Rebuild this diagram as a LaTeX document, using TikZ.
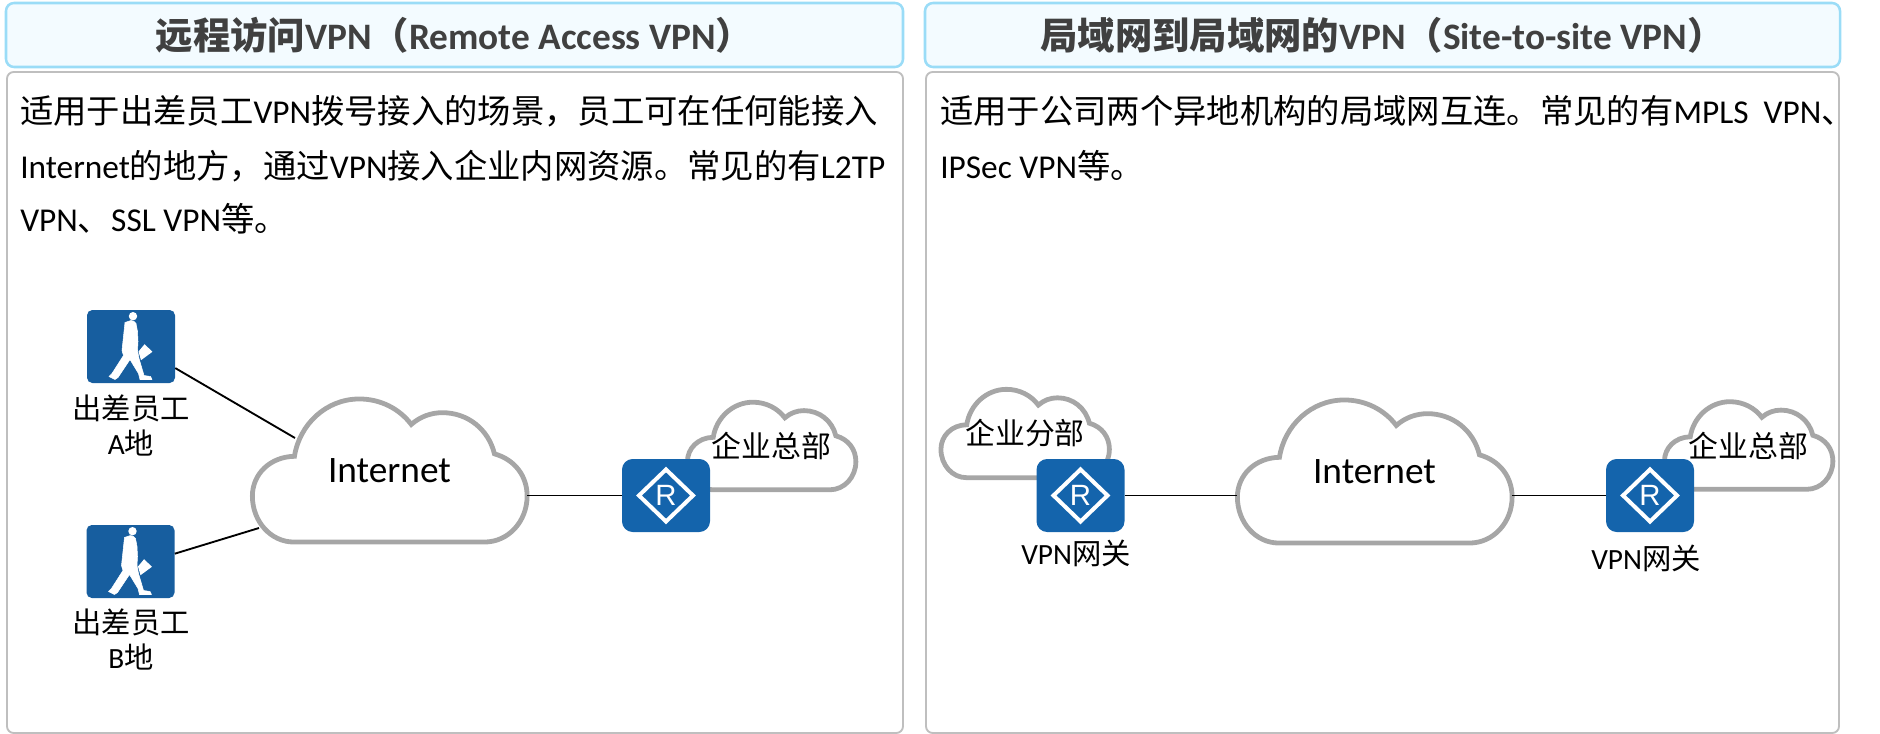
\documentclass[tikz,border=0pt]{standalone}
\usepackage{fontspec}
\setmainfont{Carlito}
\newfontfamily\cjkfont{Noto Sans CJK SC}
\newfontfamily\glyphfont{Liberation Sans}
\newcommand{\zh}[1]{{\cjkfont #1}}
\definecolor{headline}{HTML}{9ADCF7}
\definecolor{headfill}{HTML}{F3FBFF}
\definecolor{bodyline}{HTML}{BFBFBF}
\definecolor{titlegray}{HTML}{404040}
\definecolor{cloudgray}{HTML}{A6A6A6}
\definecolor{walkerblue}{HTML}{175E9F}
\definecolor{routerblue}{HTML}{1464AC}
\tikzset{
  headbox/.style={draw=headline, fill=headfill, line width=1.9pt, rounded corners=6pt, inner sep=0pt,
    minimum height=48pt, text=titlegray, font=\fontsize{28}{30}\selectfont\bfseries},
  bodybox/.style={draw=bodyline, line width=1.4pt, rounded corners=5pt, inner sep=0pt, minimum height=495.75pt},
  bodytext/.style={anchor=base west, inner sep=0pt, font=\fontsize{25}{30}\selectfont},
  cloudtext/.style={inner sep=0pt, font=\fontsize{22.4}{26}\selectfont},
  nettext/.style={inner sep=0pt, font=\fontsize{28}{30}\selectfont},
  devtext/.style={inner sep=0pt, align=center, font=\fontsize{22}{26.25}\selectfont},
  walkerbox/.style={fill=walkerblue, rounded corners=4pt, minimum width=66pt, minimum height=54.75pt, inner sep=0pt},
  routerbox/.style={fill=routerblue, rounded corners=8pt, minimum width=66pt, minimum height=54.75pt, inner sep=0pt},
  link/.style={line width=1.4pt, black},
  pics/walker/.style={code={
    \fill[white] (2,-30.3) circle (4.2);
    \filldraw[white, line width=.4pt, line join=round] (0,-26) -- (-6,-24) -- (-7.5,-10) -- (-9,4) -- (-7.5,9) -- (-19,27) -- (-22,30)
      -- (-16,33) -- (-13,31) -- (-1,13) -- (7.5,27) -- (9,33) -- (21,33) -- (19.5,30)
      -- (13,29) -- (8,12) -- (6.5,4) -- (7,-5) -- (6.5,-15) -- (5,-23) -- (3,-25) -- cycle;
    \fill[white] (7.5,5) -- (13.6,-2.3) -- (21.4,5.3) -- (10,13.7) -- cycle;
  }},
  pics/routermark/.style={code={
    \draw[white, line width=3pt] (-27,0) -- (0,-26) -- (27,0) -- (0,26) -- cycle;
    \node (-r) [white, inner sep=0pt, font=\fontsize{22}{24}\selectfont\glyphfont] at (0,0) {R};
  }},
}
% name, x, y, xscale, yscale, text style, text
\newcommand{\cloudnode}[7]{
  \draw[cloudgray, line width=3.6pt, shift={(#2,#3)}, xscale=#4, yscale=#5] (-96,-14.5)
    .. controls (-121,-14) and (-138.5,4) .. (-138.5,26)
    .. controls (-138.5,52) and (-120,73) .. (-96.5,73) -- (96,73)
    .. controls (120,73) and (139,52) .. (139,26)
    .. controls (139,6) and (127,-11) .. (106,-17)
    .. controls (100,-42) and (79,-59) .. (53.5,-59)
    .. controls (42,-59) and (31,-55) .. (22,-47)
    .. controls (10,-63) and (-9,-73) .. (-30.5,-73)
    .. controls (-64,-73) and (-91,-47) .. (-96,-14.5) -- cycle;
  \node (#1) [#6, minimum width=#4*208.1pt, minimum height=#5*109.5pt] at (#2,#3) {#7};
}
\begin{document}
\begin{tikzpicture}[x=0.75pt, y=-0.75pt]
\useasboundingbox (0,0) rectangle (1880,734);
% panels
\node (headL) [headbox, minimum width=672.75pt] at (454.5,35) {\raisebox{1pt}{\zh{远程访问}VPN\zh{（}Remote Access VPN\zh{）}}};
\node (headR) [headbox, minimum width=686.25pt] at (1382.5,35) {\raisebox{1pt}{\zh{局域网到局域网的}VPN\zh{（}Site-to-site VPN\zh{）}}};
\node (bodyL) [bodybox, minimum width=672pt] at (455,402.5) {};
\node (bodyR) [bodybox, minimum width=684.75pt] at (1382.5,402.5) {};
\node (lineLa) [bodytext] at (20,123.5) {\zh{适用于出差员工}VPN\zh{拨号接入的场景，员工可在任何能接入}};
\node (lineLb) [bodytext] at (20,178.5) {Internet\zh{的地方，通过}VPN\zh{接入企业内网资源。常见的有}L2TP};
\node (lineLc) [bodytext] at (20,231.5) {VPN\zh{、}SSL VPN\zh{等。}};
\node (lineRa) [bodytext] at (940,123.5) {\zh{适用于公司两个异地机构的局域网互连。常见的有}MPLS\ \ VPN\zh{、}};
\node (lineRb) [bodytext] at (940,179) {IPSec VPN\zh{等。}};
% left side
\cloudnode{inetL}{389.5}{470.5}{.99}{.98}{nettext}{Internet}
\cloudnode{hqL}{771.5}{446}{.607}{.6}{cloudtext}{\zh{企业总部}}
\node (walkerA) [walkerbox] at (131,346.5) {};
\node (walkerB) [walkerbox] at (130.5,561.5) {};
\pic at (walkerA) {walker};
\pic at (walkerB) {walker};
\node (labelA) [devtext] at (131,425) {\zh{出差员工}\\A\zh{地}};
\node (labelB) [devtext] at (131,639) {\zh{出差员工}\\B\zh{地}};
\node (routerL) [routerbox] at (666,495.5) {};
\pic at (routerL) {routermark};
\coordinate (inetLa) at (295,438);
\coordinate (inetLb) at (259,528);
\draw[link] (walkerA.-26) -- (inetLa);
\draw[link] (walkerB.10) -- (inetLb);
\draw[link] (inetL.east |- routerL.west) -- (routerL.west);
% right side
\cloudnode{inetR}{1374.5}{471.5}{.99}{.98}{nettext}{Internet}
\cloudnode{branchR}{1025}{433.5}{.607}{.605}{cloudtext}{\zh{企业分部}}
\cloudnode{hqR}{1748.5}{445.5}{.607}{.6}{cloudtext}{\zh{企业总部}}
\node (routerA) [routerbox] at (1080.5,495.5) {};
\node (routerB) [routerbox] at (1650,495.5) {};
\pic at (routerA) {routermark};
\pic at (routerB) {routermark};
\node (gateA) [devtext] at (1076,553) {VPN\zh{网关}};
\node (gateB) [devtext] at (1646,558) {VPN\zh{网关}};
\draw[link] (routerA.east) -- (inetR.west |- routerA.east);
\draw[link] (inetR.east |- routerB.west) -- (routerB.west);
\end{tikzpicture}
\end{document}
